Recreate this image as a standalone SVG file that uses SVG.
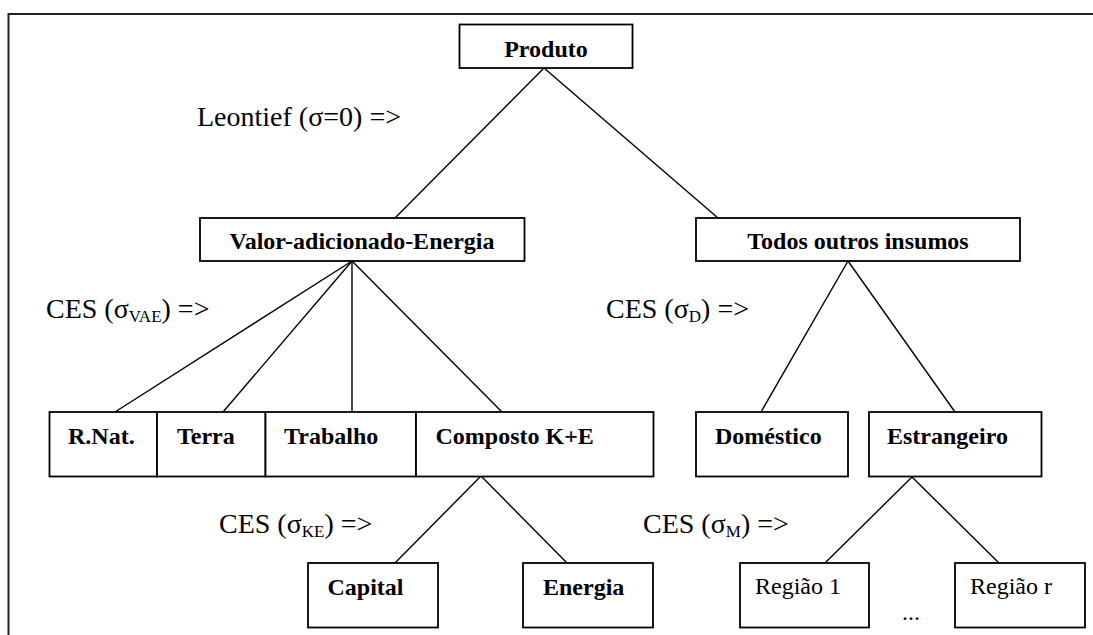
<svg xmlns="http://www.w3.org/2000/svg" width="1093" height="635" viewBox="0 0 1093 635">
<style>
  .box { fill: #fff; stroke: #000; stroke-width: 1.8; }
  .b { font-family: "Liberation Serif", "Times New Roman", serif; font-weight: bold; font-size: 24px; fill: #000; }
  .r { font-family: "Liberation Serif", "Times New Roman", serif; font-size: 24px; fill: #000; }
  .lbl { font-family: "Liberation Serif", "Times New Roman", serif; font-size: 28px; fill: #000; }
  .sub { font-size: 17px; }
  #connectors line { stroke: #000; stroke-width: 1.4; }
</style>
<rect x="0" y="0" width="1093" height="635" fill="#fff"/>
<path d="M1093,14 H8.5 V635" fill="none" stroke="#222" stroke-width="2"/>

<g id="connectors">
  <line x1="544" y1="68" x2="395" y2="218"/>
  <line x1="544" y1="68" x2="718" y2="218"/>
  <line x1="352" y1="261" x2="115" y2="412"/>
  <line x1="352" y1="261" x2="223" y2="412"/>
  <line x1="352" y1="261" x2="352" y2="412"/>
  <line x1="352" y1="261" x2="502" y2="412"/>
  <line x1="848" y1="261" x2="761" y2="412"/>
  <line x1="848" y1="261" x2="955" y2="412"/>
  <line x1="481" y1="476" x2="395" y2="563"/>
  <line x1="481" y1="476" x2="567" y2="563"/>
  <line x1="912" y1="477" x2="825" y2="563"/>
  <line x1="912" y1="477" x2="999" y2="563"/>
</g>

<g id="produto">
  <rect class="box" x="459.5" y="24.5" width="173" height="43.5"/>
  <text class="b" x="546" y="57" text-anchor="middle">Produto</text>
</g>
<g id="valor">
  <rect class="box" x="200" y="218" width="324.5" height="43"/>
  <text class="b" x="362" y="249" text-anchor="middle">Valor-adicionado-Energia</text>
</g>
<g id="todos">
  <rect class="box" x="696" y="218" width="324" height="43"/>
  <text class="b" x="858" y="249" text-anchor="middle">Todos outros insumos</text>
</g>
<g id="rnat">
  <rect class="box" x="49.5" y="412" width="107.5" height="64.5"/>
  <text class="b" x="68" y="444">R.Nat.</text>
</g>
<g id="terra">
  <rect class="box" x="157" y="412" width="108.5" height="64.5"/>
  <text class="b" x="177" y="444">Terra</text>
</g>
<g id="trabalho">
  <rect class="box" x="265.5" y="412" width="150.5" height="64.5"/>
  <text class="b" x="284" y="444">Trabalho</text>
</g>
<g id="composto">
  <rect class="box" x="416" y="412" width="237.5" height="64.5"/>
  <text class="b" x="435.5" y="444">Composto K+E</text>
</g>
<g id="domestico">
  <rect class="box" x="696" y="412" width="152" height="64.5"/>
  <text class="b" x="715" y="444">Doméstico</text>
</g>
<g id="estrangeiro">
  <rect class="box" x="869" y="412" width="172.5" height="64.5"/>
  <text class="b" x="887" y="444">Estrangeiro</text>
</g>
<g id="capital">
  <rect class="box" x="308" y="563" width="130" height="64.5"/>
  <text class="b" x="327.5" y="595">Capital</text>
</g>
<g id="energia">
  <rect class="box" x="523" y="563" width="130" height="64.5"/>
  <text class="b" x="543" y="595">Energia</text>
</g>
<g id="regiao1">
  <rect class="box" x="740" y="563" width="129" height="64.5"/>
  <text class="r" x="755" y="594">Região 1</text>
</g>
<g id="regiaor">
  <rect class="box" x="955" y="563" width="130" height="64.5"/>
  <text class="r" x="970" y="594">Região r</text>
</g>

<g id="labels">
  <text class="lbl" x="197" y="126">Leontief (σ=0) =&gt;</text>
  <text class="lbl" x="46" y="318">CES (σ<tspan class="sub" dy="4">VAE</tspan><tspan dy="-4">) =&gt;</tspan></text>
  <text class="lbl" x="606" y="318">CES (σ<tspan class="sub" dy="4">D</tspan><tspan dy="-4">) =&gt;</tspan></text>
  <text class="lbl" x="219" y="533">CES (σ<tspan class="sub" dy="4">KE</tspan><tspan dy="-4">) =&gt;</tspan></text>
  <text class="lbl" x="643" y="533">CES (σ<tspan class="sub" dy="4">M</tspan><tspan dy="-4">) =&gt;</tspan></text>
  <text class="r" x="902" y="620">...</text>
</g>
</svg>
